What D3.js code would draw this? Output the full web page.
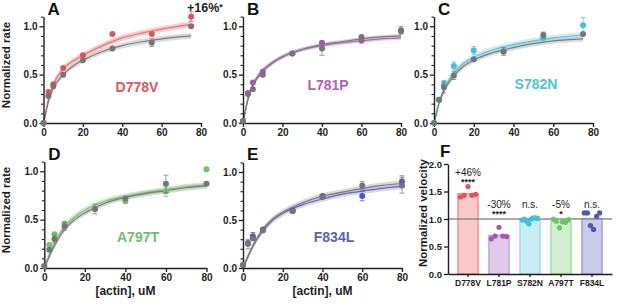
<!DOCTYPE html>
<html>
<head>
<meta charset="utf-8">
<script src="https://cdn.jsdelivr.net/npm/d3@7"></script>
<style>
body { margin: 0; background: #fff; }
svg { display: block; font-family: "Liberation Sans", Arial, sans-serif; }
</style>
</head>
<body>
<svg id="chart" width="617" height="305"></svg>
<script>
// actin concentrations (uM)
const concA = [0, 2.5, 5, 10, 20, 35, 55, 75];
const concB = [0, 2.5, 5, 10, 25, 40, 60, 80];

// normalized ATPase rates, WT (gray) and mutant, with error bars
const wtA = [0, 0.28, 0.38, 0.50, 0.65, 0.77, 0.83, 1.00];
const wtErrA = [0, 0, 0, 0, 0, 0, 0.04, 0];
const mutA = [0, 0.32, 0.40, 0.57, 0.70, 0.92, 0.92, 1.10];
const mutErrA = [0, 0, 0, 0, 0, 0, 0, 0.05];

const wtB = [0.02, 0.30, 0.35, 0.50, 0.72, 0.77, 0.89, 0.96];
const wtErrB = [0, 0, 0, 0, 0, 0.07, 0, 0.04];
const mutB = [0.02, 0.31, 0.42, 0.53, 0.72, 0.83, 0.85, 0.95];
const mutErrB = [0, 0, 0, 0, 0, 0, 0, 0];

const wtC = [0, 0.24, 0.37, 0.49, 0.66, 0.74, 0.91, 0.92];
const wtErrC = [0, 0.02, 0.06, 0.04, 0, 0.04, 0.03, 0];
const mutC = [0, 0.24, 0.40, 0.59, 0.75, 0.74, 0.88, 1.01];
const mutErrC = [0, 0, 0.04, 0.04, 0.04, 0, 0, 0.08];

const wtD = [0.02, 0.19, 0.30, 0.43, 0.61, 0.72, 0.87, 0.87];
const wtErrD = [0, 0, 0.04, 0.04, 0.05, 0, 0.09, 0];
const mutD = [0.02, 0.24, 0.35, 0.46, 0.61, 0.69, 0.79, 1.02];
const mutErrD = [0, 0, 0, 0, 0, 0, 0.05, 0];

const wtE = [0.03, 0.25, 0.31, 0.39, 0.59, 0.74, 0.86, 0.86];
const wtErrE = [0, 0.05, 0, 0, 0, 0, 0.04, 0.08];
const mutE = [0.03, 0.26, 0.33, 0.40, 0.60, 0.75, 0.75, 0.90];
const mutErrE = [0, 0, 0.04, 0, 0, 0, 0.05, 0.06];

// fitted curves at these concentrations
const fitX75 = [0, 1, 2.5, 5, 10, 15, 20, 30, 40, 50, 60, 75];
const fitX80 = [0, 1, 2.5, 5, 10, 15, 20, 30, 40, 50, 60, 70, 80];
const fitWtA = [0, 0.09, 0.22, 0.36, 0.50, 0.59, 0.65, 0.74, 0.80, 0.84, 0.87, 0.90];
const fitMutA = [0, 0.10, 0.25, 0.40, 0.56, 0.64, 0.70, 0.80, 0.88, 0.93, 0.97, 1.02];
const fitWtB = [0, 0.10, 0.24, 0.38, 0.53, 0.62, 0.68, 0.76, 0.81, 0.84, 0.87, 0.89, 0.90];
const fitMutB = [0, 0.11, 0.26, 0.40, 0.55, 0.63, 0.69, 0.76, 0.80, 0.83, 0.85, 0.87, 0.88];
const fitWtC = [0, 0.08, 0.20, 0.33, 0.49, 0.59, 0.65, 0.73, 0.78, 0.82, 0.85, 0.87];
const fitMutC = [0, 0.09, 0.21, 0.35, 0.52, 0.62, 0.68, 0.76, 0.81, 0.85, 0.88, 0.91];
const fitWtD = [0, 0.05, 0.12, 0.23, 0.40, 0.50, 0.57, 0.67, 0.73, 0.77, 0.80, 0.83, 0.85];
const fitMutD = [0, 0.06, 0.14, 0.26, 0.43, 0.53, 0.60, 0.69, 0.74, 0.78, 0.81, 0.84, 0.86];
const fitWtE = [0, 0.05, 0.12, 0.23, 0.40, 0.51, 0.58, 0.68, 0.75, 0.79, 0.83, 0.86, 0.88];
const fitMutE = [0, 0.05, 0.12, 0.23, 0.39, 0.50, 0.57, 0.66, 0.72, 0.77, 0.80, 0.83, 0.85];
const bandA = [0.03, 0.03], bandB = [0.02, 0.02], bandC = [0.03, 0.03], bandD = [0.03, 0.03], bandE = [0.03, 0.03];

// panel F: normalized velocity
const mutants = ["D778V", "L781P", "S782N", "A797T", "F834L"];
const velMean = [1.46, 0.70, 0.99, 0.95, 1.01];
const velPoints = [
	[1.40, 1.43, 1.59, 1.43, 1.45],
	[0.64, 0.69, 0.85, 0.69, 0.68],
	[0.98, 1.00, 0.96, 0.91, 1.00, 1.02, 1.02, 1.01],
	[1.00, 0.96, 0.84, 0.95, 0.94, 0.99],
	[1.11, 1.11, 0.88, 0.81, 1.05, 1.11]
];
const velChange = ["+46%", "-30%", "n.s.", "-5%", "n.s."];
const velStars = ["****", "****", "", "*", ""];
const velLabelLevel = [1.78, 1.20, 1.20, 1.20, 1.20];
const yTicksRate = [0, 0.5, 1.0];
const yTicksVel = [0, 0.5, 1.0, 1.5, 2.0];
const xTicksConc = [0, 20, 40, 60, 80];

const gray = { dot: "#757575", line: "#7c7c7c", band: "#bdbdbd" };
const palette = {
	D778V: { dot: "#e5505a", line: "#ef6f73", band: "#f5a3a5", text: "#e0565c", fill: "#fbc9c7", stroke: "#ec8185" },
	L781P: { dot: "#a657b5", line: "#a96cb9", band: "#caa8d7", text: "#b062b8", fill: "#decbe9", stroke: "#bc95cc" },
	S782N: { dot: "#45bfe0", line: "#58c6e1", band: "#a5e0ef", text: "#52c2d3", fill: "#caedf6", stroke: "#92d6e8" },
	A797T: { dot: "#6cc46a", line: "#74c073", band: "#b3dfb1", text: "#6dbf6d", fill: "#d2efcf", stroke: "#9dd59b" },
	F834L: { dot: "#5056b2", line: "#6468bc", band: "#afb1df", text: "#5c63b6", fill: "#cacbeb", stroke: "#9193d0" }
};

const panels = [
	{ letter: "A", name: "D778V", x: [43.5, 201], y0: 123, y1: 26.3, conc: concA, wt: wtA, wtErr: wtErrA, mut: mutA, mutErr: mutErrA, fitX: fitX75, wtFit: fitWtA, mutFit: fitMutA, band: bandA, lx: 137, ly: 92, ylab: true },
	{ letter: "B", name: "L781P", x: [243, 401], y0: 123, y1: 26.3, conc: concB, wt: wtB, wtErr: wtErrB, mut: mutB, mutErr: mutErrB, fitX: fitX80, wtFit: fitWtB, mutFit: fitMutB, band: bandB, lx: 328, ly: 90 },
	{ letter: "C", name: "S782N", x: [434, 593], y0: 123, y1: 26.3, conc: concA, wt: wtC, wtErr: wtErrC, mut: mutC, mutErr: mutErrC, fitX: fitX75, wtFit: fitWtC, mutFit: fitMutC, band: bandC, lx: 536, ly: 89 },
	{ letter: "D", name: "A797T", x: [44.3, 206.5], y0: 268, y1: 171.3, conc: concB, wt: wtD, wtErr: wtErrD, mut: mutD, mutErr: mutErrD, fitX: fitX80, wtFit: fitWtD, mutFit: fitMutD, band: bandD, lx: 138, ly: 242, ylab: true, xlab: true },
	{ letter: "E", name: "F834L", x: [243, 402], y0: 268, y1: 172, conc: concB, wt: wtE, wtErr: wtErrE, mut: mutE, mutErr: mutErrE, fitX: fitX80, wtFit: fitWtE, mutFit: fitMutE, band: bandE, lx: 334, ly: 242, xlab: true }
];

let svg = d3.select("#chart");
const ink = "#1e1e1e";

function styleAxis(g, size) {
	g.select(".domain").attr("stroke", ink).attr("stroke-width", 1.4);
	g.selectAll(".tick line").attr("stroke", ink).attr("stroke-width", 1.3);
	g.selectAll(".tick text").attr("fill", ink).attr("font-weight", "bold").attr("font-size", size).attr("font-family", null);
}

function drawKinetics(p) {
	let col = palette[p.name];
	let x = d3.scaleLinear().domain([0, 80]).range(p.x);
	let y = d3.scaleLinear().domain([0, 1.1]).range([p.y0, p.y0 - 1.1 * (p.y0 - p.y1)]);
	let g = svg.append("g");

	// confidence bands and fit lines (mutant first, WT on top)
	let series = [
		{ fit: p.mutFit, ci: p.band[1], c: col },
		{ fit: p.wtFit, ci: p.band[0], c: gray }
	];
	series.forEach(function(s) {
		let pts = p.fitX.map(function(v, i) { return [v, s.fit[i]]; });
		g.append("path")
			.datum(pts)
			.attr("fill", s.c.band)
			.attr("fill-opacity", 0.55)
			.attr("d", d3.area()
				.curve(d3.curveMonotoneX)
				.x(function(d) { return x(d[0]); })
				.y0(function(d) { return y(Math.max(0, d[1] - s.ci)); })
				.y1(function(d) { return y(d[1] + s.ci); }));
	});
	series.forEach(function(s) {
		let pts = p.fitX.map(function(v, i) { return [v, s.fit[i]]; });
		g.append("path")
			.datum(pts)
			.attr("fill", "none")
			.attr("stroke", s.c.line)
			.attr("stroke-width", 1.2)
			.attr("d", d3.line().curve(d3.curveMonotoneX).x(function(d) { return x(d[0]); }).y(function(d) { return y(d[1]); }));
	});

	// axes
	let yAxis = g.append("g").attr("transform", "translate(" + p.x[0] + ",0)")
		.call(d3.axisLeft(y).tickValues(yTicksRate).tickSize(4).tickSizeOuter(0).tickPadding(2).tickFormat(d3.format(".1f")));
	styleAxis(yAxis, 10);
	let yMinor = g.append("g").attr("transform", "translate(" + p.x[0] + ",0)")
		.call(d3.axisLeft(y).tickValues(d3.range(1, 12).filter(function(i) { return i % 5 != 0; }).map(function(i) { return i / 10; })).tickSize(2.5).tickFormat(""));
	yMinor.select(".domain").remove();
	yMinor.selectAll(".tick line").attr("stroke", ink).attr("stroke-width", 1.1);
	let xAxis = g.append("g").attr("transform", "translate(0," + p.y0 + ")")
		.call(d3.axisBottom(x).tickValues(xTicksConc).tickSize(4).tickSizeOuter(0).tickPadding(2).tickFormat(d3.format("d")));
	styleAxis(xAxis, 10);

	// data points with error bars: mutant under WT
	[[p.mut, p.mutErr, col], [p.wt, p.wtErr, gray]].forEach(function(s) {
		let vals = s[0], errs = s[1], c = s[2];
		let pts = p.conc.map(function(v, i) { return { c: v, v: vals[i], e: errs[i] }; });
		let eb = g.append("g").attr("stroke", c.dot).attr("stroke-opacity", 0.7).attr("stroke-width", 1);
		pts.filter(function(d) { return d.e > 0; }).forEach(function(d) {
			eb.append("line").attr("x1", x(d.c)).attr("x2", x(d.c)).attr("y1", y(d.v - d.e)).attr("y2", y(d.v + d.e));
			eb.append("line").attr("x1", x(d.c) - 2.5).attr("x2", x(d.c) + 2.5).attr("y1", y(d.v - d.e)).attr("y2", y(d.v - d.e));
			eb.append("line").attr("x1", x(d.c) - 2.5).attr("x2", x(d.c) + 2.5).attr("y1", y(d.v + d.e)).attr("y2", y(d.v + d.e));
		});
		g.selectAll(null).data(pts).enter().append("circle")
			.attr("cx", function(d) { return x(d.c); })
			.attr("cy", function(d) { return y(d.v); })
			.attr("r", 3)
			.attr("fill", c.dot);
	});

	// labels
	g.append("text").attr("x", p.x[0] + 4).attr("y", p.y0 - 108).attr("font-size", 17).attr("font-weight", "bold").attr("fill", "#111").text(p.letter);
	g.append("text").attr("x", p.lx).attr("y", p.ly).attr("text-anchor", "middle").attr("font-size", 14).attr("font-weight", "bold").attr("fill", col.text).text(p.name);
	if (p.ylab) {
		g.append("text").attr("transform", "translate(9.5," + (p.y0 - 58) + ") rotate(-90)")
			.attr("text-anchor", "middle").attr("font-size", 11.5).attr("font-weight", "bold").attr("fill", ink).text("Normalized rate");
	}
	if (p.xlab) {
		g.append("text").attr("x", (p.x[0] + p.x[1]) / 2).attr("y", 295)
			.attr("text-anchor", "middle").attr("font-size", 12).attr("font-weight", "bold").attr("fill", ink).text("[actin], uM");
	}
}

panels.forEach(drawKinetics);

// significance note for panel A
let note = svg.append("text").attr("x", 187).attr("y", 12).attr("font-size", 12.5).attr("font-weight", "bold").attr("fill", ink);
note.append("tspan").text("+16%");
note.append("tspan").attr("font-size", 9).attr("dy", -2).text("*");

// panel F
function drawVelocity() {
	let x = d3.scaleBand().domain(mutants).range([448, 612]).paddingInner(0.35).paddingOuter(0.32);
	let y = d3.scaleLinear().domain([0, 2]).range([274, 164]);
	let g = svg.append("g");

	g.selectAll(".bar").data(mutants).enter().append("rect")
		.attr("class", "bar")
		.attr("x", function(d) { return x(d); })
		.attr("y", function(d, i) { return y(velMean[i]); })
		.attr("width", x.bandwidth())
		.attr("height", function(d, i) { return y(0) - y(velMean[i]); })
		.attr("fill", function(d) { return palette[d].fill; })
		.attr("stroke", function(d) { return palette[d].stroke; })
		.attr("stroke-width", 1.2);

	g.append("line").attr("x1", 448).attr("x2", 612).attr("y1", y(1)).attr("y2", y(1))
		.attr("stroke", "#8c8c8c").attr("stroke-width", 1.3);

	mutants.forEach(function(m, k) {
		let pts = velPoints[k];
		g.selectAll(null).data(pts).enter().append("circle")
			.attr("cx", function(d, i) { return x(m) + x.bandwidth() * (0.12 + 0.76 * i / (pts.length - 1)); })
			.attr("cy", function(d) { return y(d); })
			.attr("r", 2.6)
			.attr("fill", palette[m].dot);
		let cx = x(m) + x.bandwidth() / 2;
		g.append("text").attr("x", cx).attr("y", y(velLabelLevel[k]))
			.attr("text-anchor", "middle").attr("font-size", 10).attr("fill", "#222").text(velChange[k]);
		if (velStars[k]) {
			g.append("text").attr("x", cx).attr("y", y(velLabelLevel[k]) + 9)
				.attr("text-anchor", "middle").attr("font-size", 9).attr("font-weight", "bold").attr("fill", "#222").text(velStars[k]);
		}
	});

	let yAxis = g.append("g").attr("transform", "translate(448,0)")
		.call(d3.axisLeft(y).tickValues(yTicksVel).tickSize(4).tickSizeOuter(0).tickPadding(2).tickFormat(d3.format(".1f")));
	styleAxis(yAxis, 9.5);
	let xAxis = g.append("g").attr("transform", "translate(0,274)")
		.call(d3.axisBottom(x).tickSize(3).tickSizeOuter(0).tickPadding(3));
	styleAxis(xAxis, 8.5);

	g.append("text").attr("x", 440).attr("y", 157).attr("font-size", 17).attr("font-weight", "bold").attr("fill", "#111").text("F");
	g.append("text").attr("transform", "translate(427,213) rotate(-90)")
		.attr("text-anchor", "middle").attr("font-size", 11.5).attr("font-weight", "bold").attr("fill", ink).text("Normalized velocity");
}

drawVelocity();
</script>
</body>
</html>
